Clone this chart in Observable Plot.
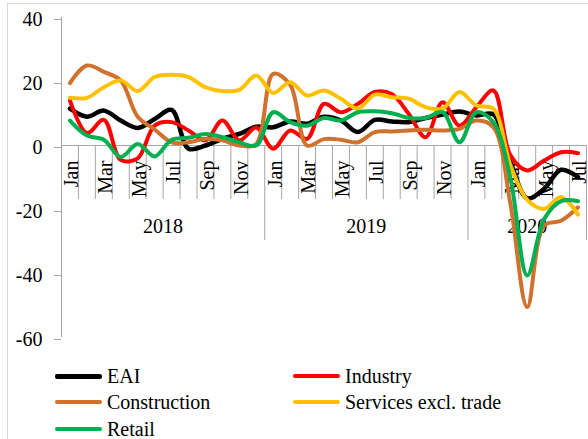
<!DOCTYPE html>
<html>
<head>
<meta charset="utf-8">
<script src="https://cdn.jsdelivr.net/npm/d3@7"></script>
<script src="https://cdn.jsdelivr.net/npm/@observablehq/plot@0.6"></script>
<style>
  html, body { margin: 0; padding: 0; background: #fff; }
  #wrap { position: relative; width: 588px; height: 439px; overflow: hidden; font-family: "Liberation Serif", "Times New Roman", Tinos, "Noto Serif", "DejaVu Serif", serif; }
  #frame { position: absolute; left: 7px; top: 3px; width: 600px; height: 460px; border-left: 1px solid #d9d9d9; border-top: 1px solid #d9d9d9; }
  #chart { position: absolute; left: 0; top: 0; }
  .lg { position: absolute; height: 20px; line-height: 20px; font-size: 20px; color: #000; white-space: nowrap; }
  .sw { position: absolute; height: 4px; border-radius: 2px; }
</style>
</head>
<body>
<div id="wrap">
  <div id="frame"></div>
  <div id="chart"></div>
  <div id="legend"></div>
</div>
<script>
// ---- data (Jan 2018 .. Jul 2020) ----
const months = ["Jan","Feb","Mar","Apr","May","Jun","Jul","Aug","Sep","Oct","Nov","Dec",
                "Jan","Feb","Mar","Apr","May","Jun","Jul","Aug","Sep","Oct","Nov","Dec",
                "Jan","Feb","Mar","Apr","May","Jun","Jul"];
const years = ["2018", "2019", "2020"];
const yearMonths = [12, 12, 7];
const yTicks = [40, 20, 0, -20, -40, -60];

const eai          = [11.5, 9, 10.9, 7.8, 5.5, 8.3, 11.1, -1, 0, 2.1, 3.6, 5.9,
                      5.7, 7.5, 6.8, 9, 7.8, 4.2, 8, 7.5, 7.3, 8.6, 9.7, 10.6,
                      9.4, 9.7, -5, -16.5, -13.5, -7.6, -9.9];
const industry     = [14, 3.9, 8, -4.5, -4, 6.2, 7.3, 4.7, 1.6, 7.8, 1.6, 5.6,
                      -1, 4.7, 2.1, 13, 10.4, 13, 16.7, 16.1, 9.9, 2.6, 13.5, 6.2,
                      12, 17.2, -3, -7.8, -4.7, -2.1, -2.4];
const construction = [19.5, 25, 23, 20.3, 9, 5, 1, 1, 2.1, 1.6, 0, 0.5,
                      22.4, 19, 0, 2, 1.8, 1, 4.2, 4.4, 4.7, 4.9, 4.7, 5.2,
                      7.8, 5.7, -18, -50.5, -25, -23.5, -19.3];
const services     = [14.9, 14.9, 18.2, 20.3, 17, 21.4, 22.1, 21.4, 18.2, 17, 17.4, 21.9,
                      16.4, 19.8, 15.6, 17.2, 14.6, 11.5, 15.9, 15.1, 14.6, 12, 11.5, 16.7,
                      12.5, 11.5, -6, -17, -19.8, -16.1, -21.6];
const retail       = [7.8, 3.1, 1.8, -3.6, 0.5, -3.4, 1.8, 2.4, 3.6, 2.6, 1, 0,
                      10.4, 7.3, 6.2, 8.6, 7.8, 10.4, 10.7, 10.1, 8.6, 8.6, 10.4, 1,
                      10.4, 7.3, -10, -40.6, -23, -17.4, -17.4];

const seriesNames = ["EAI", "Industry", "Construction", "Services excl. trade", "Retail"];
const seriesValues = [eai, industry, construction, services, retail];
const seriesColors = ["#000000", "#ff0000", "#d0722e", "#ffc000", "#00b050"];
const seriesWidths = [4.5, 4, 4, 4, 4];

// ---- chart ----
const idx = d3.range(months.length);
const n = months.length;
const labelIdx = idx.filter(i => i % 2 === 0);
const yearStarts = yearMonths.map((c, k) => d3.sum(yearMonths.slice(0, k)));
const yearBounds = [0, ...yearStarts.slice(1), n];
const minorBounds = d3.range(1, n).filter(k => !yearBounds.includes(k));
const minorTickEnd = -16.9;   // axis-units depth of month tick lines
const yearTickEnd = -29.7;    // axis-units depth of year separators
const axisGray = "#a6a6a6";
const font = "'Liberation Serif', 'Times New Roman', Tinos, 'Noto Serif', 'DejaVu Serif', serif";

const chart = Plot.plot({
  width: 588,
  height: 350,
  marginLeft: 61,
  marginRight: 2,
  marginTop: 17,
  marginBottom: 13,
  style: { fontFamily: font, fontSize: "20px", background: "transparent", overflow: "visible" },
  x: { domain: [0, n], axis: null },
  y: { domain: [-60, 40], axis: null },
  marks: [
    Plot.ruleX([0], { y1: -60, y2: 40, stroke: axisGray, strokeWidth: 1 }),
    Plot.axisY(yTicks, { anchor: "left", tickSize: 7, tickPadding: 12, tickFormat: d => String(d),
                         stroke: axisGray, fill: "#000", fontSize: 20, fontFamily: font, dy: 2, label: null }),
    Plot.ruleY([0], { stroke: axisGray, strokeWidth: 1 }),
    Plot.ruleX(minorBounds, { y1: 0, y2: minorTickEnd, stroke: axisGray, strokeWidth: 1 }),
    Plot.ruleX(yearBounds, { y1: 0, y2: yearTickEnd, stroke: axisGray, strokeWidth: 1 }),
    Plot.text(labelIdx, { x: i => i + 0.5, y: 0, text: i => months[i], rotate: -90, textAnchor: "end",
                          dx: 2, dy: 15, fontSize: 20, fontFamily: font, fill: "#000" }),
    Plot.text(years, { x: (d, k) => yearStarts[k] + yearMonths[k] / 2, y: 0, text: d => d,
                       dy: 81, fontSize: 20, fontFamily: font, fill: "#000" }),
    ...seriesValues.map((vals, s) => Plot.line(idx, {
      x: i => i + 0.5, y: i => vals[i], stroke: seriesColors[s], strokeWidth: seriesWidths[s],
      curve: "catmull-rom", strokeLinejoin: "round", strokeLinecap: "round"
    }))
  ]
});
document.getElementById("chart").appendChild(chart);

// ---- legend ----
const legendPos = [
  { sx: 55, tx: 107, y: 376 },
  { sx: 293, tx: 345, y: 376 },
  { sx: 55, tx: 107, y: 402 },
  { sx: 293, tx: 345, y: 402 },
  { sx: 55, tx: 107, y: 428.5 }
];
const legend = document.getElementById("legend");
seriesNames.forEach((name, s) => {
  const p = legendPos[s];
  const sw = document.createElement("div");
  sw.className = "sw";
  sw.style.left = p.sx + "px";
  sw.style.width = "47px";
  sw.style.top = (p.y - 2) + "px";
  sw.style.background = seriesColors[s];
  if (s === 0) { sw.style.height = "5px"; sw.style.top = (p.y - 2.5) + "px"; }
  legend.appendChild(sw);
  const t = document.createElement("div");
  t.className = "lg";
  t.style.left = p.tx + "px";
  t.style.top = (p.y - 10) + "px";
  t.textContent = name;
  legend.appendChild(t);
});
</script>
</body>
</html>
